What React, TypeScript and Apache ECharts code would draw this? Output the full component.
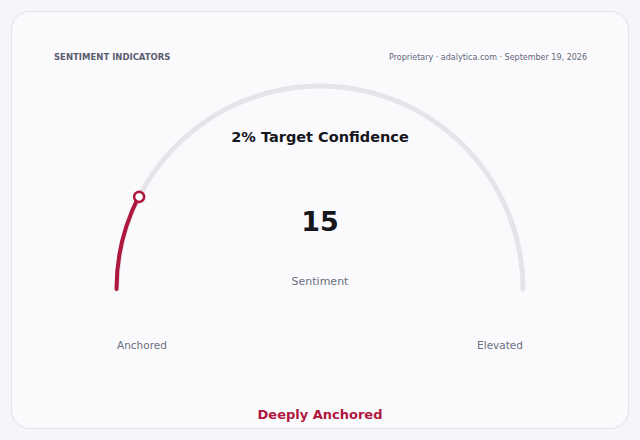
import { useRef, useEffect } from 'react'
import * as echarts from 'echarts'

// gauge reading
const gaugeMin = 0
const gaugeMax = 100
const gaugeValues = [15]
const gaugeName = 'Sentiment'
const endLabels = ['Anchored', 'Elevated']
const chartTitle = '2% Target Confidence'
const verdict = 'Deeply Anchored'
const header = 'SENTIMENT INDICATORS'
const sourceLine = 'Proprietary · adalytica.com · September 19, 2026'

const FONT = '"DejaVu Sans", sans-serif'
const RED = '#b0173d'
const TRACK = '#e4e4eb'

export default function App() {
  const chartRef = useRef<HTMLDivElement>(null)

  useEffect(() => {
    document.body.style.margin = '0'
    if (!chartRef.current) return
    const chart = echarts.init(chartRef.current, null, { renderer: 'svg' })

    const cx = 320
    const cy = 289
    const r = 203

    chart.setOption({
      animation: false,
      backgroundColor: '#f5f5fa',
      textStyle: { fontFamily: FONT },
      // polar system only used to place the marker at the value on the arc
      polar: { center: [cx, cy], radius: r },
      angleAxis: {
        type: 'value',
        min: gaugeMin,
        max: gaugeMin + (gaugeMax - gaugeMin) * 2,
        startAngle: 180,
        clockwise: true,
        show: false
      },
      radiusAxis: { type: 'value', min: 0, max: 1, show: false },
      graphic: [
        {
          type: 'rect',
          shape: { x: 11.5, y: 11.5, width: 617, height: 417, r: 18 },
          style: { fill: '#fafafd', stroke: '#e2e2ec', lineWidth: 1 },
          z: -10
        },
        {
          type: 'text',
          x: 54,
          y: 57,
          style: {
            text: header,
            font: `bold 8.5px ${FONT}`,
            fill: '#5a5d70',
            verticalAlign: 'middle'
          }
        },
        {
          type: 'text',
          x: 587,
          y: 57,
          style: {
            text: sourceLine,
            font: `8px ${FONT}`,
            fill: '#63667a',
            align: 'right',
            verticalAlign: 'middle'
          }
        },
        {
          type: 'text',
          x: cx,
          y: 137,
          style: {
            text: chartTitle,
            font: `bold 14.5px ${FONT}`,
            fill: '#16161c',
            align: 'center',
            verticalAlign: 'middle'
          }
        },
        {
          type: 'text',
          x: 117,
          y: 345,
          style: {
            text: endLabels[0],
            font: `10.5px ${FONT}`,
            fill: '#6b6e80',
            align: 'left',
            verticalAlign: 'middle'
          }
        },
        {
          type: 'text',
          x: 523,
          y: 345,
          style: {
            text: endLabels[1],
            font: `10.5px ${FONT}`,
            fill: '#6b6e80',
            align: 'right',
            verticalAlign: 'middle'
          }
        },
        {
          type: 'text',
          x: cx,
          y: 414,
          style: {
            text: verdict,
            font: `bold 13px ${FONT}`,
            fill: RED,
            align: 'center',
            verticalAlign: 'middle'
          }
        }
      ],
      series: [
        {
          type: 'gauge',
          center: [cx, cy],
          radius: r + 2.5,
          startAngle: 180,
          endAngle: 0,
          min: gaugeMin,
          max: gaugeMax,
          axisLine: { roundCap: true, lineStyle: { width: 5, color: [[1, TRACK]] } },
          progress: { show: true, roundCap: true, width: 4, itemStyle: { color: RED } },
          pointer: { show: false },
          anchor: { show: false },
          axisTick: { show: false },
          splitLine: { show: false },
          axisLabel: { show: false },
          title: {
            offsetCenter: [0, -8],
            fontSize: 11,
            color: '#6b6e80',
            fontFamily: FONT
          },
          detail: {
            offsetCenter: [0, -68],
            fontSize: 27,
            fontWeight: 'bold',
            color: '#16161c',
            fontFamily: FONT,
            formatter: '{value}'
          },
          data: gaugeValues.map((v) => ({ value: v, name: gaugeName }))
        },
        {
          type: 'scatter',
          coordinateSystem: 'polar',
          symbol: 'circle',
          symbolSize: 10,
          itemStyle: { color: '#ffffff', borderColor: RED, borderWidth: 2.5, opacity: 1 },
          data: gaugeValues.map((v) => [1, v]),
          z: 5
        }
      ]
    })

    return () => chart.dispose()
  }, [])

  return <div ref={chartRef} style={{ width: 640, height: 440 }} />
}
